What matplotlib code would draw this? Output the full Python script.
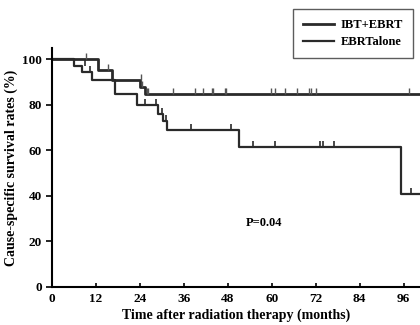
import matplotlib
matplotlib.use("Agg")
import matplotlib.pyplot as plt

plt.rcParams['font.family'] = ['Liberation Serif', 'DejaVu Serif']
plt.rcParams['font.weight'] = 'bold'

# Kaplan-Meier steps
ibt_t = [0, 12.5, 16.3, 24.0, 25.4, 100.5]
ibt_s = [100, 95.2, 91.1, 88.0, 84.8, 84.8]
ebrt_t = [0, 6.0, 8.1, 11.0, 17.2, 23.1, 29.0, 30.4, 31.3, 51.1, 95.2, 100.5]
ebrt_s = [100, 97.0, 94.4, 90.8, 85.0, 80.1, 76.0, 73.0, 69.0, 61.5, 41.0, 41.0]

# censored observations
ibt_cens_t = [9.3, 15.2, 24.2, 24.6, 25.8, 26.2, 33, 39, 41.3, 43.8, 44, 47.2, 47.6,
              59.9, 60.8, 63.5, 66.9, 70.2, 70.8, 72, 97.4]
ibt_cens_s = [100, 95.2, 91.1, 88, 84.8, 84.8, 84.8, 84.8, 84.8, 84.8, 84.8, 84.8, 84.8,
              84.8, 84.8, 84.8, 84.8, 84.8, 84.8, 84.8, 84.8]
ebrt_cens_t = [9.0, 10.4, 25.4, 28.3, 30.0, 31.0, 38, 49, 54.9, 61, 73.1, 74, 77, 98]
ebrt_cens_s = [97, 94.4, 80.1, 80.1, 76, 73, 69, 69, 61.5, 61.5, 61.5, 61.5, 61.5, 41]

xticks = [0, 12, 24, 36, 48, 60, 72, 84, 96]
yticks = [0, 20, 40, 60, 80, 100]

fig = plt.figure(figsize=(4.2, 3.25), dpi=100)
ax = fig.add_axes([0.124, 0.117, 0.876, 0.735])

col = '#2a2a2a'
ax.step(ibt_t, ibt_s, where='post', color=col, lw=2.0, label='IBT+EBRT')
ax.step(ebrt_t, ebrt_s, where='post', color=col, lw=1.6, label='EBRTalone')
ax.plot(ibt_cens_t, ibt_cens_s, ls='none', marker=2, ms=4, mew=1.0, color='#555555')
ax.plot(ebrt_cens_t, ebrt_cens_s, ls='none', marker=2, ms=4, mew=1.2, color=col)

ax.set_xlim(0, 100.5)
ax.set_ylim(0, 105)
ax.set_xticks(xticks)
ax.set_yticks(yticks)
ax.spines['top'].set_visible(False)
ax.spines['right'].set_visible(False)
ax.spines['left'].set_linewidth(1.5)
ax.spines['bottom'].set_linewidth(1.5)
ax.tick_params(axis='x', direction='in', length=3, width=1.2, labelsize=9.5, pad=4)
ax.tick_params(axis='y', direction='out', length=4, width=1.2, labelsize=9.5)

ax.set_xlabel('Time after radiation therapy (months)', fontsize=10, fontweight='bold', labelpad=3)
ax.set_ylabel('Cause-specific survival rates (%)', fontsize=10, fontweight='bold', labelpad=3)
ax.text(53, 28, 'P=0.04', fontsize=9, fontweight='bold', va='center')

leg = ax.legend(loc='upper right', bbox_to_anchor=(413 / 420, 1 - 9 / 325),
                bbox_transform=fig.transFigure, fontsize=9, frameon=True,
                fancybox=False, handlelength=2.5, handletextpad=0.5,
                borderpad=0.8, labelspacing=0.4, borderaxespad=0)
leg.get_frame().set_edgecolor('#333333')
leg.get_frame().set_linewidth(1.0)

fig.savefig('out.png', dpi=100)
